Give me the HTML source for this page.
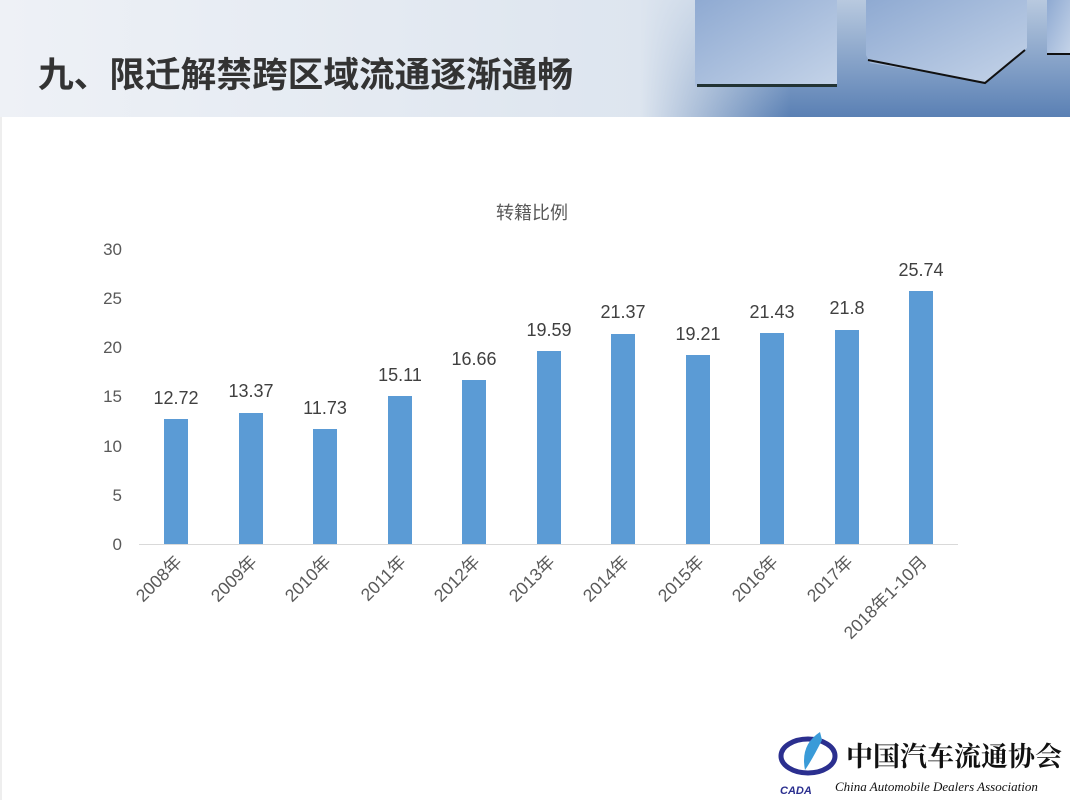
<!DOCTYPE html>
<html><head><meta charset="utf-8"><style>
body{margin:0;width:1070px;height:800px;background:#fff;overflow:hidden;font-family:"Liberation Sans","Noto Sans CJK SC",sans-serif;}
</style></head><body>
<svg width="1070" height="800" xmlns="http://www.w3.org/2000/svg" style="position:absolute;left:0;top:0">
<defs>
<linearGradient id="hg" x1="0" y1="0" x2="1" y2="0">
<stop offset="0" stop-color="#eef1f6"/><stop offset="0.6" stop-color="#dde5ef"/><stop offset="1" stop-color="#c9d6e6"/></linearGradient>
<linearGradient id="fl" x1="0" y1="0" x2="0" y2="1">
<stop offset="0" stop-color="#b8c9df"/><stop offset="1" stop-color="#5a80b4"/></linearGradient>
<linearGradient id="fl2" x1="0" y1="0" x2="1" y2="0">
<stop offset="0" stop-color="#dde5ef" stop-opacity="1"/><stop offset="0.35" stop-color="#dde5ef" stop-opacity="0"/></linearGradient>
<linearGradient id="cb" x1="0" y1="0" x2="1" y2="1">
<stop offset="0" stop-color="#8faad2"/><stop offset="1" stop-color="#c4d3e8"/></linearGradient>
</defs>
<rect x="0" y="0" width="1070" height="117" fill="url(#hg)"/>
<rect x="640" y="0" width="430" height="117" fill="url(#fl)"/>
<rect x="640" y="0" width="430" height="117" fill="url(#fl2)"/>
<rect x="695" y="0" width="142" height="86" fill="url(#cb)"/>
<rect x="697" y="84" width="140" height="3" fill="#233"/>
<path d="M866 0 H1027 V48 L985 82 L870 63 L866 55 Z" fill="url(#cb)"/>
<path d="M868 60 L985 83 L1025 50" stroke="#111" stroke-width="2" fill="none"/>
<rect x="1047" y="0" width="23" height="54" fill="url(#cb)"/>
<rect x="1047" y="53" width="23" height="2" fill="#111"/>
<line x1="1" y1="117" x2="1" y2="800" stroke="#ddd"/>
<text x="38" y="87" font-size="35" font-weight="bold" fill="#333" textLength="535" lengthAdjust="spacingAndGlyphs">九、限迁解禁跨区域流通逐渐通畅</text>
<text x="532" y="219" font-size="18" fill="#595959" text-anchor="middle">转籍比例</text>
<g font-size="17" fill="#595959" text-anchor="end">
<text x="122" y="550">0</text><text x="122" y="501">5</text><text x="122" y="452">10</text>
<text x="122" y="402">15</text><text x="122" y="353">20</text><text x="122" y="304">25</text><text x="122" y="255">30</text>
</g>
<line x1="139" y1="544.5" x2="958" y2="544.5" stroke="#d9d9d9"/>
<g fill="#5b9bd5">
<rect x="164" y="419" width="24" height="125"/>
<rect x="239" y="413" width="24" height="131"/>
<rect x="313" y="429" width="24" height="115"/>
<rect x="388" y="396" width="24" height="148"/>
<rect x="462" y="380" width="24" height="164"/>
<rect x="537" y="351" width="24" height="193"/>
<rect x="611" y="334" width="24" height="210"/>
<rect x="686" y="355" width="24" height="189"/>
<rect x="760" y="333" width="24" height="211"/>
<rect x="835" y="330" width="24" height="214"/>
<rect x="909" y="291" width="24" height="253"/>
</g>
<g font-size="18" fill="#404040" text-anchor="middle">
<text x="176" y="404">12.72</text><text x="251" y="397">13.37</text><text x="325" y="414">11.73</text>
<text x="400" y="381">15.11</text><text x="474" y="365">16.66</text><text x="549" y="336">19.59</text>
<text x="623" y="318">21.37</text><text x="698" y="340">19.21</text><text x="772" y="318">21.43</text>
<text x="847" y="314">21.8</text><text x="921" y="276">25.74</text>
</g>
<g font-size="17.5" fill="#595959" text-anchor="end">
<text transform="translate(183,563) rotate(-45)">2008年</text>
<text transform="translate(258,563) rotate(-45)">2009年</text>
<text transform="translate(332,563) rotate(-45)">2010年</text>
<text transform="translate(407,563) rotate(-45)">2011年</text>
<text transform="translate(481,563) rotate(-45)">2012年</text>
<text transform="translate(556,563) rotate(-45)">2013年</text>
<text transform="translate(630,563) rotate(-45)">2014年</text>
<text transform="translate(705,563) rotate(-45)">2015年</text>
<text transform="translate(779,563) rotate(-45)">2016年</text>
<text transform="translate(854,563) rotate(-45)">2017年</text>
<text transform="translate(928,563) rotate(-45)">2018年1-10月</text>
</g>
<ellipse cx="808" cy="756" rx="27" ry="17" fill="none" stroke="#2b2f8f" stroke-width="5"/>
<path d="M820 732 Q800 745 805 770 Q812 760 822 740 Z" fill="#3a9bd8"/>
<text x="780" y="794" font-size="11" font-weight="bold" font-style="italic" fill="#2b2f8f">CADA</text>
<text x="846" y="766" font-size="27" font-weight="bold" fill="#111" font-family="'Noto Serif CJK SC',serif">中国汽车流通协会</text>
<text x="835" y="791" font-size="13" font-style="italic" fill="#111" font-family="'Liberation Serif',serif">China Automobile Dealers Association</text>
</svg>
</body></html>
